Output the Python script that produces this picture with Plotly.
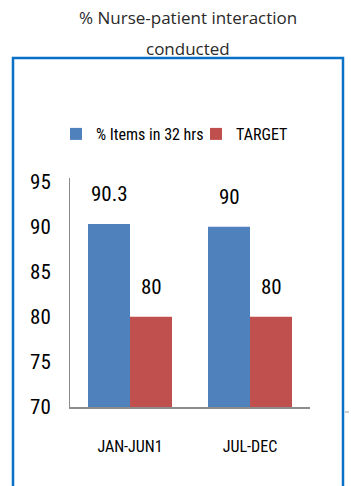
import plotly.graph_objects as go

categories = ["JAN-JUN1", "JUL-DEC"]
items_32hrs = [90.3, 90]
target = [80, 80]
series_names = ["% Items in 32 hrs", "TARGET"]
title_lines = ["% Nurse-patient interaction", "conducted"]
y_ticks = [70, 75, 80, 85, 90, 95]

BLUE = "#4F81BD"
RED = "#C0504D"
NARROW = "Liberation Sans Narrow, Arial Narrow, Roboto Condensed, sans-serif"

W, H = 351, 486
L, R, T, B = 70, 41, 178, 79
pw, ph = W - L - R, H - T - B

def px_x(x):
    return (x - L) / pw

def px_y(y):
    return (H - B - y) / ph

fig = go.Figure()
fig.add_trace(go.Bar(x=categories, y=items_32hrs, name=series_names[0],
                     marker=dict(color=BLUE, line=dict(width=0))))
fig.add_trace(go.Bar(x=categories, y=target, name=series_names[1],
                     marker=dict(color=RED, line=dict(width=0))))

annotations = []
half = 0.35 / 2
for i, (a, b) in enumerate(zip(items_32hrs, target)):
    for val, off in ((a, -half), (b, half)):
        annotations.append(dict(x=i + off, y=val, xref="x", yref="y",
                                text=f"{val:g}", showarrow=False,
                                yanchor="middle", yshift=30,
                                font=dict(family=NARROW, size=21, color="#000")))

for k, line in enumerate(title_lines):
    annotations.append(dict(x=px_x(188), y=px_y(18 + 30 * k), xref="paper", yref="paper",
                            text=line, showarrow=False, xanchor="center", yanchor="middle",
                            font=dict(family="Open Sans, sans-serif", size=17, color="#2a2a2a")))

shapes = [
    dict(type="rect", xref="paper", yref="paper",
         x0=px_x(13), x1=px_x(343), y0=px_y(495), y1=px_y(58),
         line=dict(color="#0A70C8", width=2.5), fillcolor="rgba(0,0,0,0)"),
    dict(type="line", xref="paper", yref="paper",
         x0=px_x(345), x1=px_x(349), y0=px_y(412), y1=px_y(412),
         line=dict(color="#999", width=1)),
]

fig.update_layout(
    width=W, height=H,
    margin=dict(l=L, r=R, t=T, b=B),
    paper_bgcolor="white", plot_bgcolor="white",
    barmode="group", bargap=0.3, bargroupgap=0,
    showlegend=True,
    legend=dict(orientation="h", x=px_x(56), y=px_y(134), xanchor="left", yanchor="middle",
                font=dict(family=NARROW, size=16, color="#000"),
                itemwidth=30, tracegroupgap=0, bgcolor="rgba(0,0,0,0)",
                entrywidth=95, entrywidthmode="pixels"),
    annotations=annotations,
    shapes=shapes,
    xaxis=dict(showline=True, linecolor="#8C8C8C", linewidth=2, ticks="",
               showgrid=False, zeroline=False,
               tickfont=dict(family=NARROW, size=16, color="#000"),
               ticklabelstandoff=24),
    yaxis=dict(range=[70, 95.4], tickvals=y_ticks, showline=True, linecolor="#8C8C8C",
               linewidth=1, ticks="", showgrid=False, zeroline=False,
               tickfont=dict(family=NARROW, size=21, color="#000"),
               ticklabelstandoff=14),
)

fig.write_html("out.html")
